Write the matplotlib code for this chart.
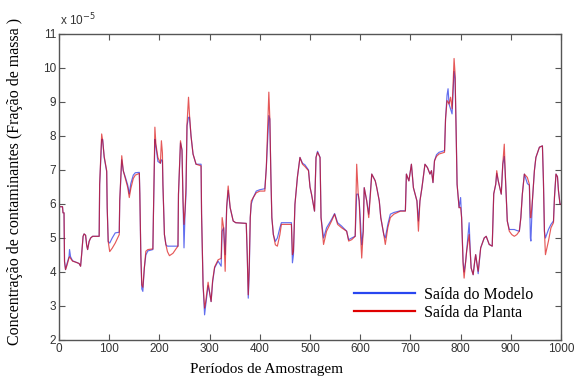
import matplotlib
matplotlib.use("Agg")
import matplotlib.pyplot as plt
from matplotlib.lines import Line2D

# Sampling periods (vertices of the traces) and concentrations in units of 1e-5
periodos = [0, 7, 8, 10, 11, 13, 16, 20, 21, 23, 27, 35, 40, 43, 45, 48, 50, 53, 55, 57,
            60, 63, 67, 80, 81, 85, 87, 90, 95, 96, 98, 101, 106, 112, 120, 121, 125, 128, 133, 137,
            140, 143, 148, 152, 160, 161, 163, 165, 167, 170, 173, 177, 187, 188, 191, 193, 197, 202, 204, 206,
            207, 210, 213, 216, 220, 227, 233, 237, 238, 242, 245, 247, 249, 251, 253, 255, 258, 260, 263, 267,
            273, 283, 284, 287, 290, 292, 297, 300, 303, 306, 310, 317, 323, 325, 328, 331, 334, 337, 341, 347,
            352, 373, 375, 377, 379, 381, 383, 387, 393, 400, 410, 413, 418, 420, 422, 424, 427, 431, 435, 440,
            443, 463, 465, 467, 470, 475, 480, 485, 490, 497, 500, 503, 509, 512, 515, 520, 522, 527, 533, 543,
            549, 555, 563, 573, 577, 583, 590, 593, 596, 598, 600, 603, 606, 608, 613, 617, 620, 623, 630, 633,
            638, 641, 647, 650, 655, 660, 667, 680, 690, 692, 697, 702, 706, 713, 716, 719, 723, 729, 734, 739,
            742, 745, 748, 752, 757, 768, 770, 773, 775, 777, 780, 783, 785, 787, 789, 791, 793, 797, 800, 802,
            805, 807, 810, 812, 817, 819, 821, 825, 828, 830, 833, 835, 840, 847, 851, 857, 863, 866, 870, 872,
            875, 881, 884, 887, 889, 891, 893, 897, 902, 907, 912, 917, 920, 923, 927, 933, 937, 939, 940, 943,
            947, 950, 957, 963, 965, 967, 969, 975, 980, 985, 987, 990, 993, 995, 998, 1000]

saida_planta = [5.92, 5.92, 5.74, 5.74, 4.31, 4.07, 4.20, 4.42, 4.45, 4.40, 4.32, 4.28, 4.25, 4.17, 4.50, 5.05, 5.12, 5.08, 4.80, 4.66,
                4.90, 5.00, 5.05, 5.05, 6.58, 8.06, 7.86, 7.40, 6.98, 5.90, 4.90, 4.60, 4.70, 4.85, 5.10, 6.10, 7.42, 6.98, 6.70, 6.48,
                6.19, 6.45, 6.75, 6.85, 6.90, 6.30, 4.50, 3.62, 3.55, 4.12, 4.61, 4.66, 4.68, 5.60, 8.26, 7.76, 7.37, 7.20, 7.86, 7.50,
                6.58, 5.10, 4.80, 4.60, 4.48, 4.55, 4.68, 4.76, 6.29, 7.86, 7.57, 6.09, 5.40, 5.80, 6.50, 8.35, 9.14, 8.60, 8.00, 7.47,
                7.17, 7.12, 5.70, 3.62, 2.94, 3.10, 3.70, 3.40, 3.13, 3.75, 4.15, 4.36, 4.40, 5.60, 5.30, 4.02, 5.90, 6.53, 5.89, 5.50,
                5.45, 5.43, 4.50, 3.33, 4.20, 5.60, 6.09, 6.19, 6.33, 6.38, 6.38, 7.07, 9.29, 8.50, 6.88, 5.60, 5.10, 4.80, 4.76, 5.10,
                5.40, 5.40, 4.51, 4.60, 5.99, 6.80, 7.37, 7.17, 7.10, 6.98, 6.50, 6.29, 5.79, 7.37, 7.52, 7.37, 5.60, 4.81, 5.20, 5.50,
                5.70, 5.40, 5.30, 5.20, 4.91, 4.95, 5.05, 7.17, 6.30, 6.09, 5.30, 4.41, 5.20, 6.48, 6.09, 5.60, 6.20, 6.88, 6.68, 6.48,
                6.09, 5.60, 5.10, 4.81, 5.30, 5.60, 5.70, 5.79, 5.79, 6.88, 6.68, 7.17, 6.48, 6.09, 5.20, 6.09, 6.48, 7.17, 7.07, 6.88,
                6.98, 6.63, 7.27, 7.40, 7.47, 7.52, 8.50, 9.04, 9.00, 8.94, 9.14, 8.80, 9.50, 10.28, 9.83, 8.26, 6.58, 5.89, 5.90, 5.60,
                4.22, 3.82, 4.30, 4.61, 5.10, 4.60, 4.12, 3.92, 4.30, 4.51, 4.20, 4.02, 4.71, 5.00, 5.05, 4.81, 4.76, 6.30, 6.58, 6.98,
                6.68, 6.29, 7.17, 7.76, 6.88, 6.19, 5.50, 5.20, 5.10, 5.05, 5.10, 5.20, 5.60, 6.29, 6.88, 6.78, 6.58, 5.60, 5.60, 6.09,
                6.98, 7.37, 7.67, 7.71, 6.68, 5.20, 4.51, 4.91, 5.30, 5.45, 6.20, 6.88, 6.80, 6.38, 6.00, 5.99]

saida_modelo = [5.92, 5.92, 5.74, 5.74, 4.31, 4.07, 4.25, 4.45, 4.66, 4.45, 4.33, 4.28, 4.25, 4.17, 4.50, 5.05, 5.12, 5.08, 4.80, 4.66,
                4.90, 5.00, 5.05, 5.05, 6.58, 7.90, 7.90, 7.37, 6.95, 5.90, 4.90, 4.85, 5.00, 5.15, 5.17, 6.10, 7.30, 6.98, 6.75, 6.55,
                6.30, 6.60, 6.85, 6.92, 6.93, 6.30, 4.50, 3.50, 3.43, 4.12, 4.50, 4.62, 4.66, 5.60, 7.90, 7.70, 7.25, 7.20, 7.30, 7.27,
                6.58, 5.10, 4.80, 4.76, 4.76, 4.76, 4.76, 4.76, 6.29, 7.80, 7.60, 6.09, 4.71, 5.70, 6.30, 8.30, 8.55, 8.55, 8.00, 7.47,
                7.17, 7.17, 5.70, 3.62, 2.74, 3.00, 3.60, 3.40, 3.13, 3.70, 4.12, 4.32, 4.17, 5.20, 5.30, 4.51, 5.90, 6.40, 5.89, 5.50,
                5.45, 5.43, 4.50, 3.23, 4.00, 5.60, 6.00, 6.19, 6.38, 6.42, 6.45, 7.07, 8.60, 8.50, 6.88, 5.60, 5.10, 4.90, 5.00, 5.30,
                5.45, 5.45, 4.27, 4.50, 5.99, 6.80, 7.37, 7.20, 7.15, 7.00, 6.50, 6.29, 5.79, 7.37, 7.55, 7.37, 5.60, 5.00, 5.30, 5.55,
                5.72, 5.45, 5.35, 5.20, 4.95, 5.00, 5.05, 6.29, 6.29, 6.09, 5.60, 4.80, 5.20, 6.48, 6.09, 5.70, 6.30, 6.88, 6.68, 6.48,
                6.09, 5.60, 5.10, 5.00, 5.40, 5.70, 5.75, 5.80, 5.80, 6.88, 6.68, 7.17, 6.48, 6.09, 5.50, 6.09, 6.48, 7.17, 7.07, 6.88,
                6.98, 6.63, 7.27, 7.45, 7.52, 7.57, 8.50, 9.20, 9.39, 8.94, 8.80, 8.65, 9.30, 9.90, 9.70, 8.26, 6.58, 5.89, 6.19, 5.60,
                4.30, 4.00, 4.30, 4.61, 5.45, 4.70, 4.12, 3.92, 4.30, 4.51, 4.20, 3.95, 4.71, 5.00, 5.05, 4.81, 4.76, 6.30, 6.58, 6.90,
                6.68, 6.29, 7.17, 7.40, 6.88, 6.19, 5.50, 5.25, 5.25, 5.25, 5.22, 5.20, 5.60, 6.29, 6.88, 6.60, 6.55, 5.00, 4.91, 6.09,
                6.98, 7.37, 7.67, 7.71, 6.68, 5.20, 5.00, 5.25, 5.40, 5.50, 6.20, 6.88, 6.80, 6.38, 6.00, 5.99]

x_ticks = [0, 100, 200, 300, 400, 500, 600, 700, 800, 900, 1000]
y_ticks = [2, 3, 4, 5, 6, 7, 8, 9, 10, 11]
legenda = ["Saída do Modelo", "Saída da Planta"]

W, H = 574, 379
fig = plt.figure(figsize=(W / 100, H / 100), dpi=100)
ax = fig.add_axes([59 / W, 1 - 340 / H, (561 - 59) / W, (340 - 34) / H])

serif = ["Liberation Serif", "DejaVu Serif"]
sans = ["Liberation Sans", "DejaVu Sans"]

ax.plot(periodos, saida_modelo, color="#2030e8", lw=0.85, alpha=0.7)
ax.plot(periodos, saida_planta, color="#d80000", lw=0.85, alpha=0.65)

ax.set_xlim(0, 1000)
ax.set_ylim(2, 11)
ax.set_xticks(x_ticks)
ax.set_yticks(y_ticks)
ax.set_xticklabels([str(t) for t in x_ticks], fontfamily=sans, fontsize=8.5)
ax.set_yticklabels([str(t) for t in y_ticks], fontfamily=sans, fontsize=8.5)
ax.tick_params(direction="in", length=4, width=0.8, top=True, right=True, pad=2, colors="#555555",
               labelcolor="#333333")
for s in ax.spines.values():
    s.set_color("#555555")
    s.set_linewidth(1.0)

h1 = Line2D([], [], color="#2846f0", lw=1.6)
h2 = Line2D([], [], color="#e00000", lw=1.6)
ax.legend([h1, h2], legenda, loc="center left", bbox_to_anchor=((354 - 59) / 502, (340 - 304) / 306),
          frameon=False, borderpad=0, borderaxespad=0, handlelength=3.8, handletextpad=0.6,
          labelspacing=0.12, prop={"family": serif, "size": 11.5})

fig.text(60 / W, 1 - 20 / H, r"x 10$^{-5}$", fontfamily=sans, fontsize=8.5, color="#333333",
         ha="left", va="center")
fig.text(267 / W, 1 - 369 / H, "Períodos de Amostragem", fontfamily=serif, fontsize=11,
         ha="center", va="center")
fig.text(15 / W, 1 - 181 / H, "Concentração de contaminantes (Fração de massa )", fontfamily=serif,
         fontsize=11.5, rotation=90, ha="center", va="center")

fig.savefig("out.png", dpi=100)
